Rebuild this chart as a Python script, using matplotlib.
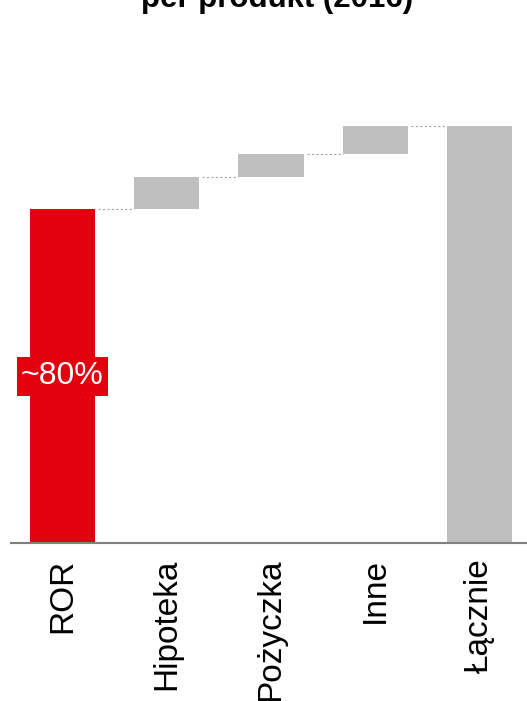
#!/usr/bin/env python
"""Waterfall chart: revenue share per product (2016)."""

import matplotlib.pyplot as plt

# Data (share of total, %)
categories = ["ROR", "Hipoteka", "Pożyczka", "Inne", "Łącznie"]
steps = [80.0, 7.7, 5.6, 6.7]
ror_label = "~80%"
title = "per produkt (2016)"

RED = "#E3000F"
GREY = "#BFBFBF"

plt.rcParams["font.family"] = ["Liberation Sans", "DejaVu Sans"]

# Build waterfall bottoms / heights
bottoms = []
heights = []
running = 0.0
for v in steps:
    bottoms.append(running)
    heights.append(v)
    running += v
bottoms.append(0.0)
heights.append(running)
colors = [RED] + [GREY] * (len(categories) - 1)

fig = plt.figure(figsize=(5.27, 7.01), dpi=100)
ax = fig.add_axes([11 / 527, 1 - 543 / 701, 1 - 11 / 527, (543 - 60) / 701])

x = list(range(len(categories)))
width = 0.625
ax.bar(x, heights, bottom=bottoms, width=width, color=colors, zorder=2)

# Dotted connectors between consecutive bars
for i in range(len(categories) - 1):
    level = bottoms[i] + heights[i]
    ax.plot([x[i] + width / 2 + 0.03, x[i + 1] - width / 2], [level, level],
            linestyle=(0, (2, 2)), color="#A6A6A6", linewidth=0.8, zorder=1)

# Label on the first bar
ax.text(x[0], heights[0] * 0.5, ror_label, color="white", fontsize=23,
        ha="center", va="center", zorder=3,
        bbox=dict(boxstyle="square,pad=0.14", facecolor=RED, edgecolor="none"))

ax.set_xlim(-0.494, 4.456)
ax.set_ylim(0, 100 * (543 - 60) / 417)

ax.set_xticks(x)
ax.set_xticklabels(categories, rotation=90, fontsize=24)
ax.tick_params(axis="x", length=0, pad=11)
ax.set_yticks([])
for side in ["top", "right", "left"]:
    ax.spines[side].set_visible(False)
ax.spines["bottom"].set_color("#808080")
ax.spines["bottom"].set_linewidth(1.5)

# Title sits mostly above the top edge, as in the source image
fig.text(277 / 527, 1 - 7 / 701, title, ha="center", va="baseline",
         fontsize=22.5, fontweight="bold")

fig.savefig("out.png", dpi=100)
